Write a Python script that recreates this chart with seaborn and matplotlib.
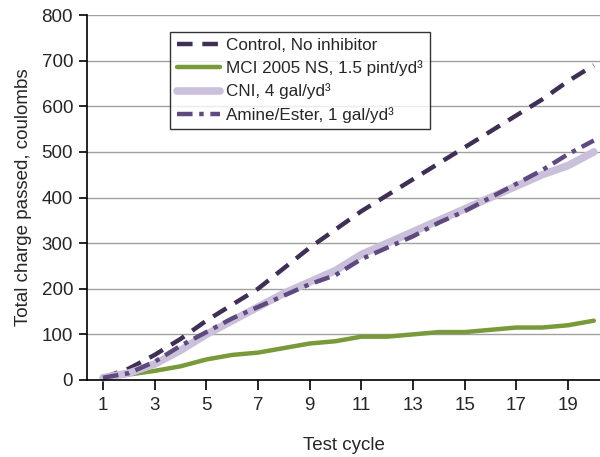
import matplotlib
matplotlib.use("Agg")
import matplotlib.pyplot as plt
import seaborn as sns
import pandas as pd

cycles = list(range(1, 21))
control = [5, 25, 55, 90, 130, 165, 200, 245, 290, 330, 370, 405, 440, 475, 510, 545, 580, 615, 655, 690]
mci = [5, 12, 20, 30, 45, 55, 60, 70, 80, 85, 95, 95, 100, 105, 105, 110, 115, 115, 120, 130]
cni = [5, 15, 35, 65, 100, 130, 160, 190, 215, 240, 275, 300, 325, 350, 375, 400, 425, 450, 470, 500]
amine = [5, 15, 40, 75, 105, 135, 160, 185, 210, 230, 265, 290, 315, 345, 370, 400, 430, 460, 495, 525]
labels = ["Control, No inhibitor", "MCI 2005 NS, 1.5 pint/yd³", "CNI, 4 gal/yd³", "Amine/Ester, 1 gal/yd³"]
xticks = [1, 3, 5, 7, 9, 11, 13, 15, 17, 19]
yticks = [0, 100, 200, 300, 400, 500, 600, 700, 800]

sns.set_style("white")
plt.rcParams['font.family'] = ['Liberation Sans', 'DejaVu Sans']

fig = plt.figure(figsize=(6, 4.57), dpi=100)
ax = fig.add_axes([0.145, 0.1685, 0.855, 0.7985])

df = pd.DataFrame({"cycle": cycles, "control": control, "mci": mci, "cni": cni, "amine": amine})

sns.lineplot(data=df, x="cycle", y="control", ax=ax, color="#3f2f55", lw=3.2,
             label=labels[0], linestyle=(0, (3.5, 2.2)))
sns.lineplot(data=df, x="cycle", y="mci", ax=ax, color="#789a3a", lw=3.2, label=labels[1])
sns.lineplot(data=df, x="cycle", y="cni", ax=ax, color="#cbc0db", lw=5.5, label=labels[2])
sns.lineplot(data=df, x="cycle", y="amine", ax=ax, color="#5f4a80", lw=3.2,
             label=labels[3], linestyle=(0, (3.5, 1.5, 1, 1.5)))
for ln in ax.lines:
    ln.set_clip_on(False)

ax.set_xlim(0.38, 20.24)
ax.set_ylim(0, 800)
ax.set_xticks(xticks)
ax.set_yticks(yticks)
ax.yaxis.grid(True, color="#a0a0a0", lw=1)
ax.set_axisbelow(True)
for s in ["top", "right"]:
    ax.spines[s].set_visible(False)
for s in ["left", "bottom"]:
    ax.spines[s].set_color("black")
    ax.spines[s].set_linewidth(1.2)
ax.tick_params(axis="both", which="both", direction="out", width=1.2,
               color="black", labelsize=13.5, bottom=True, left=True)
ax.tick_params(axis="x", length=7, pad=5)
ax.tick_params(axis="y", length=6, pad=4)
ax.set_xlabel("Test cycle", fontsize=13.5, labelpad=17)
ax.set_ylabel("Total charge passed, coulombs", fontsize=13.5, labelpad=7)

leg = ax.legend(loc="upper left", bbox_to_anchor=(0.162, 0.955), fontsize=12.3,
                frameon=True, fancybox=False, handlelength=2.5, handletextpad=0.4,
                borderpad=0.4, labelspacing=0.42, borderaxespad=0)
leg.get_frame().set_edgecolor("black")
leg.get_frame().set_linewidth(1.0)

fig.savefig("out.png", dpi=100)
